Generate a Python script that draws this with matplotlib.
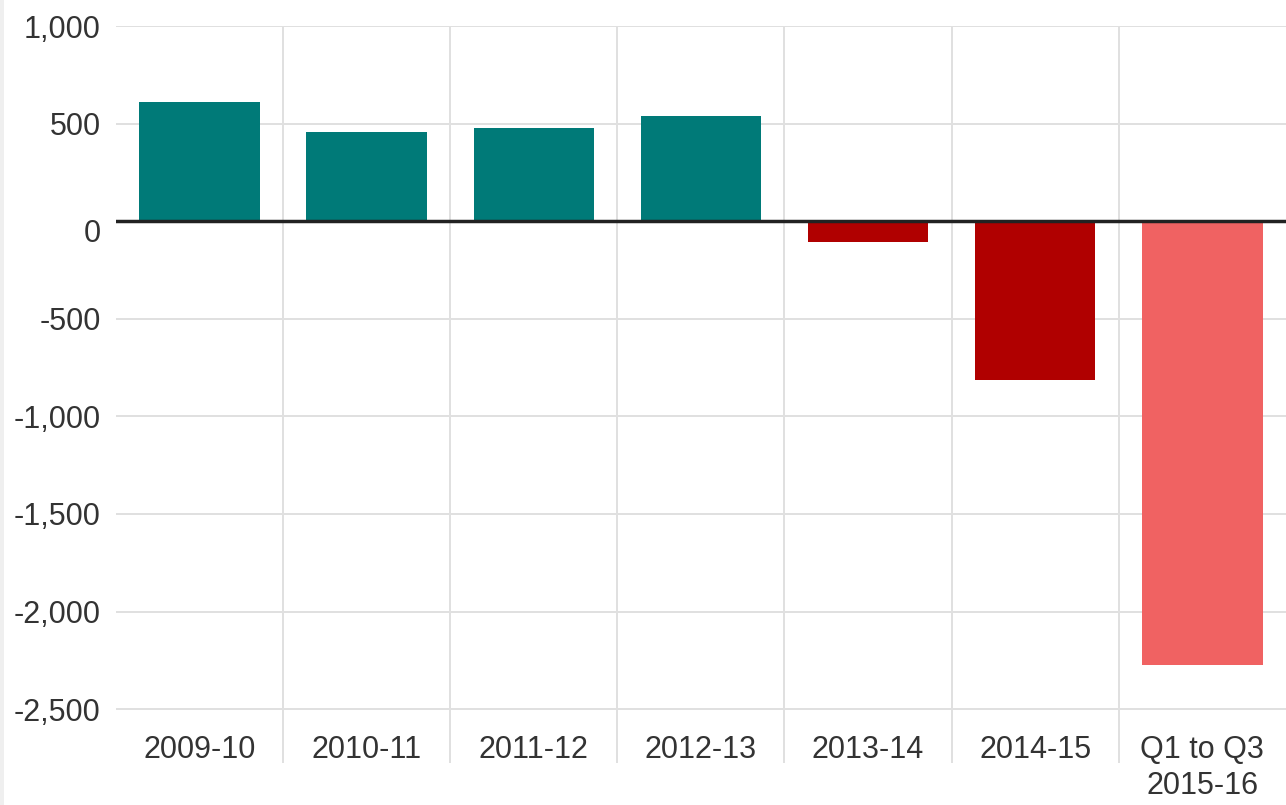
import numpy as np
import matplotlib
matplotlib.use("Agg")
import matplotlib.pyplot as plt
import matplotlib.transforms as mtransforms
from matplotlib.ticker import FuncFormatter

plt.rcParams["font.family"] = "Liberation Sans"
plt.rcParams["font.size"] = 22

# net balance per year
years = ["2009-10", "2010-11", "2011-12", "2012-13", "2013-14", "2014-15", "Q1 to Q3\n2015-16"]
balance = [612, 456, 477, 541, -105, -816, -2272]
bar_colors = ["#007a78", "#007a78", "#007a78", "#007a78", "#b00000", "#b00000", "#f06262"]
yticks = [1000, 500, 0, -500, -1000, -1500, -2000, -2500]

fig = plt.figure(figsize=(12.86, 8.05), dpi=100)
fig.patch.set_facecolor("white")
# thin grey strip on the left edge
fig.patches.append(plt.Rectangle((0, 0), 4 / 1286, 1, transform=fig.transFigure,
                                 facecolor="#efefef", edgecolor="none", zorder=0))

ax = fig.add_axes([115.8 / 1286, 42 / 805, 1 - 115.8 / 1286, (763 - 26) / 805])
x = np.arange(len(years))

ax.bar(x, balance, width=0.72, color=bar_colors, zorder=3)
ax.axhline(0, color="#222222", lw=2.5, zorder=4)

ax.set_xlim(-0.5, len(years) - 0.5)
ax.set_ylim(-2776, 1000)

for y in yticks:
    ax.axhline(y, color="#e0e0e0", lw=1.4, zorder=1)
for b in np.arange(0.5, len(years) - 0.5, 1):
    ax.axvline(b, color="#e0e0e0", lw=1.4, zorder=1)

for s in ax.spines.values():
    s.set_visible(False)

ax.set_yticks(yticks)
ax.yaxis.set_major_formatter(FuncFormatter(lambda v, p: f"{int(v):,}"))
ax.tick_params(axis="y", length=0, pad=11, labelcolor="#333333")
ax.set_xticks([])

# the zero label sits a little under its line
for lab in ax.get_yticklabels():
    if lab.get_text() == "0":
        lab.set_transform(lab.get_transform() +
                          mtransforms.ScaledTranslation(0, -9 / 100, fig.dpi_scale_trans))

# category names inside the bottom of the plot area
for i, name in enumerate(years):
    ax.text(i, -2635, name, ha="center", va="top", color="#333333",
            linespacing=1.25, zorder=5)

fig.savefig("out.png", dpi=100, facecolor="white")
